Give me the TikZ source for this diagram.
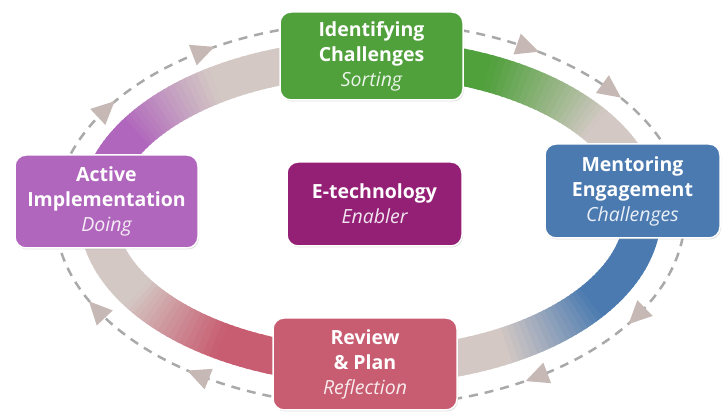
\documentclass[tikz,border=0pt]{standalone}
\usepackage{fontspec}
\setmainfont{Open Sans}
\usetikzlibrary{shadows}
\definecolor{cgreen}{HTML}{50A03C}
\definecolor{cblue}{HTML}{4A7AB0}
\definecolor{cred}{HTML}{C85C70}
\definecolor{cpurple}{HTML}{B066BC}
\definecolor{cetech}{HTML}{942076}
\definecolor{bandgray}{HTML}{D3C8C4}
\definecolor{arrowc}{HTML}{C6B8B4}
\definecolor{dashc}{HTML}{A9A9A9}
\tikzset{
  box/.style={rounded corners=11pt, draw=white, line width=1.5pt, align=center,
    text=white, inner sep=0pt, font=\fontsize{19.5}{25}\selectfont,
    drop shadow={shadow xshift=1pt, shadow yshift=-1.5pt, fill=black!40, opacity=0.3}},
  dashring/.style={dashc, line width=2.5pt, dash pattern=on 9pt off 7pt},
  arrowhd/.style={fill=arrowc}
}
\begin{document}
\begin{tikzpicture}[x=1pt,y=1pt]
\useasboundingbox (0,0) rectangle (723,412);
% dashed outer ring
\draw[dashring] (370,198) ellipse [x radius=315, y radius=192];
% shaded band
\foreach \col/\ts/\te/\tsolid/\tgray in {cgreen/90/0/65/35, cblue/0/-90/-35/-60, cred/-90/-180/-122/-148, cpurple/180/90/150/125}{
  \pgfmathtruncatemacro\n{((\ts)-(\te))/1.5}
  \foreach \i in {0,...,\n}{
    \pgfmathsetmacro\t{(\ts)-1.5*\i}
    \pgfmathtruncatemacro\p{max(0,min(100,((\t)-(\tgray))/((\tsolid)-(\tgray))*100))}
    \colorlet{bandc}{\col!\p!bandgray}
    \draw[bandc, line width=37pt] ({370+273*cos(\t)},{200+154*sin(\t)}) arc[start angle=\t, end angle=\t-2, x radius=273, y radius=154];
  }
}
% arrowheads on dashed ring
\foreach \t in {122,147,60,40,-32,-58,-123,-150}{
  \pgfmathsetmacro\ang{atan2(-192*cos(\t), 315*sin(\t))}
  \fill[arrowhd, shift={({370+315*cos(\t)},{198+192*sin(\t)})}, rotate=\ang] (12,0) -- (-11,11) -- (-11,-11) -- cycle;
}
% boxes
\node[box, fill=cgreen, minimum width=183pt, minimum height=88pt] (ident) at (371.5,356)
  {\textbf{Identifying}\\\textbf{Challenges}\\{\itshape\color{cgreen!12!white}Sorting}};
\node[box, fill=cblue, minimum width=175pt, minimum height=94pt] (mentor) at (632.5,221)
  {\textbf{Mentoring}\\\textbf{Engagement}\\{\itshape\color{cblue!12!white}Challenges}};
\node[box, fill=cred, minimum width=184pt, minimum height=92pt] (review) at (365,48)
  {\textbf{Review}\\\textbf{\& Plan}\\{\itshape\color{cred!12!white}Reflection}};
\node[box, fill=cpurple, minimum width=183pt, minimum height=93pt] (active) at (106.5,210.5)
  {\textbf{Active}\\\textbf{Implementation}\\{\itshape\color{cpurple!12!white}Doing}};
\node[box, fill=cetech, minimum width=175pt, minimum height=84pt] (etech) at (374.5,208)
  {\textbf{E-technology}\\{\itshape\color{cetech!12!white}Enabler}};
\end{tikzpicture}
\end{document}
